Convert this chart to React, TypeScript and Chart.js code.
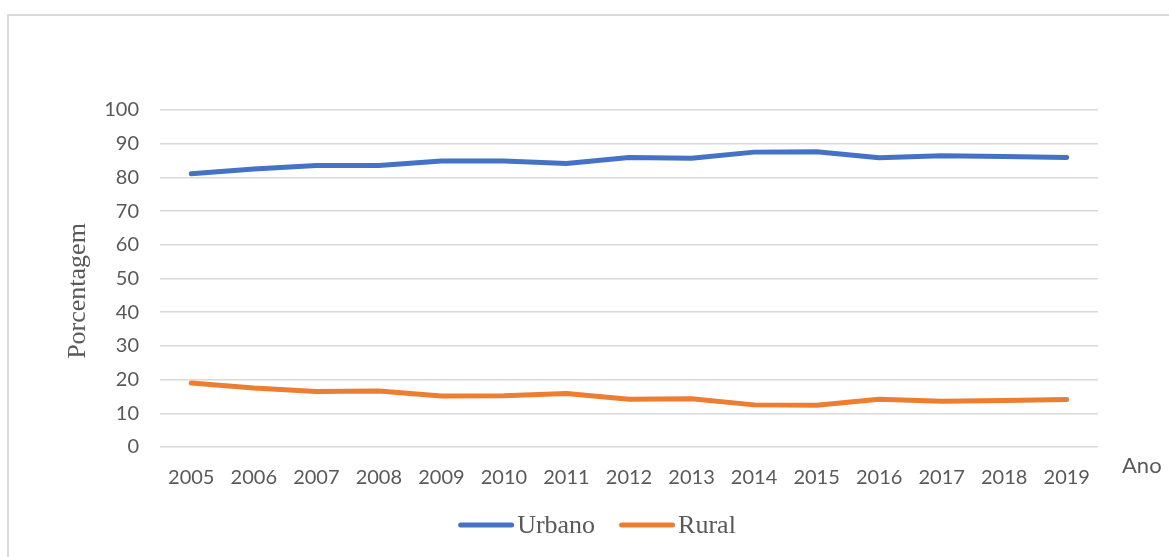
import { useEffect, useRef } from "react";
import { Chart, registerables } from "chart.js";

Chart.register(...registerables);

// Share of population by area (%), 2005–2019
const years = ["2005", "2006", "2007", "2008", "2009", "2010", "2011", "2012", "2013", "2014", "2015", "2016", "2017", "2018", "2019"];
const urbano = [81.1, 82.5, 83.5, 83.5, 84.9, 84.9, 84.1, 85.9, 85.7, 87.5, 87.6, 85.8, 86.4, 86.2, 85.9];
const rural = [19.0, 17.5, 16.5, 16.6, 15.1, 15.2, 15.9, 14.2, 14.3, 12.5, 12.4, 14.2, 13.6, 13.8, 14.1];
const seriesNames = ["Urbano", "Rural"];
const seriesColors = ["#4472C4", "#ED7D31"];
const yMin = 0;
const yMax = 100;
const yStep = 10;
const yTitle = "Porcentagem";
const xTitle = "Ano";

const W = 1169;
const H = 557;
const TEXT = "#595959";
const SERIF = '"Liberation Serif", "Times New Roman", serif';
const SANS = 'Lato, "Open Sans", sans-serif';

// Axis titles and the bottom legend, painted on top of the chart
const decorations = {
  id: "decorations",
  afterDraw(chart: any) {
    const ctx: CanvasRenderingContext2D = chart.ctx;
    ctx.save();
    ctx.fillStyle = TEXT;
    ctx.font = `26px ${SERIF}`;
    ctx.textAlign = "center";
    ctx.textBaseline = "middle";
    ctx.translate(78, 291);
    ctx.rotate(-Math.PI / 2);
    ctx.fillText(yTitle, 0, 0);
    ctx.restore();

    ctx.save();
    ctx.fillStyle = TEXT;
    ctx.font = `22px ${SANS}`;
    ctx.textAlign = "left";
    ctx.textBaseline = "middle";
    ctx.fillText(xTitle, 1122, 466);
    ctx.restore();

    // legend
    ctx.save();
    ctx.font = `26px ${SERIF}`;
    ctx.textBaseline = "middle";
    ctx.textAlign = "left";
    const lineLen = 56;
    const gap = 3;
    const itemGap = 24;
    const ds = chart.data.datasets;
    const widths = ds.map((d: any) => lineLen + gap + ctx.measureText(d.label).width);
    const total = widths.reduce((a: number, b: number) => a + b, 0) + itemGap * (ds.length - 1);
    let x = 597 - total / 2;
    const y = 525;
    ds.forEach((d: any, i: number) => {
      ctx.strokeStyle = d.borderColor;
      ctx.lineWidth = 5;
      ctx.lineCap = "round";
      ctx.beginPath();
      ctx.moveTo(x + 2.5, y);
      ctx.lineTo(x + lineLen - 2.5, y);
      ctx.stroke();
      ctx.fillStyle = TEXT;
      ctx.fillText(d.label, x + lineLen + gap, y + 1);
      x += widths[i] + itemGap;
    });
    ctx.restore();
  },
};

export default function App() {
  const ref = useRef<HTMLCanvasElement | null>(null);

  useEffect(() => {
    if (!ref.current) return;
    const chart = new Chart(ref.current, {
      type: "line",
      data: {
        labels: years,
        datasets: [
          {
            label: seriesNames[0],
            data: urbano,
            borderColor: seriesColors[0],
            backgroundColor: seriesColors[0],
            borderWidth: 5,
            borderCapStyle: "round",
            borderJoinStyle: "round",
            pointRadius: 0,
            tension: 0,
          },
          {
            label: seriesNames[1],
            data: rural,
            borderColor: seriesColors[1],
            backgroundColor: seriesColors[1],
            borderWidth: 5,
            borderCapStyle: "round",
            borderJoinStyle: "round",
            pointRadius: 0,
            tension: 0,
          },
        ],
      },
      options: {
        responsive: false,
        animation: false,
        layout: { padding: { left: 0, top: 110, right: 71, bottom: 0 } },
        plugins: {
          legend: { display: false },
          tooltip: { enabled: false },
        },
        scales: {
          x: {
            offset: true,
            grid: { display: false, drawTicks: false },
            border: { display: false },
            ticks: {
              color: TEXT,
              font: { family: SANS, size: 20 },
              padding: 19,
              maxRotation: 0,
              autoSkip: false,
            },
            afterFit(scale: any) {
              scale.height = 110;
            },
          },
          y: {
            min: yMin,
            max: yMax,
            grid: { color: "#d9d9d9", lineWidth: 1.5, drawTicks: false },
            border: { display: false },
            ticks: {
              stepSize: yStep,
              color: TEXT,
              font: { family: SANS, size: 20 },
              padding: 21,
            },
            afterFit(scale: any) {
              scale.width = 160;
            },
          },
        },
      },
      plugins: [decorations],
    });
    return () => chart.destroy();
  }, []);

  return (
    <div style={{ position: "absolute", left: 0, top: 0, width: W, height: H, overflow: "hidden", background: "#fff" }}>
      <div
        style={{
          position: "absolute",
          left: 7,
          top: 14,
          width: 1220,
          height: 620,
          border: "2px solid #d9d9d9",
          boxSizing: "border-box",
        }}
      />
      <canvas ref={ref} width={W} height={H} style={{ position: "absolute", left: 0, top: 0, width: W, height: H }} />
    </div>
  );
}
